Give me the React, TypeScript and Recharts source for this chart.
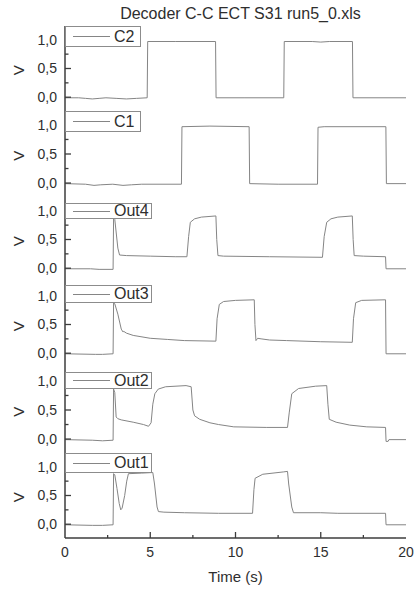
import React from 'react';
import { LineChart, Line, XAxis, YAxis, Legend } from 'recharts';

const FONT = '"Liberation Sans", Arial, Helvetica, sans-serif';
const FRAME = '#3c3c3c';
const TEXT = '#2e2e2e';
const LINE = '#858585';

// ---------- data (time in s, value in V) ----------
const c2: [number, number][] = [
  [0, -0.01], [0.8, -0.01], [1.2, -0.02], [1.6, -0.03], [2.0, -0.02], [2.4, -0.01], [3.0, -0.02],
  [3.6, -0.03], [4.2, -0.02], [4.82, -0.01], [4.85, 0.97], [6.5, 0.97], [8.83, 0.97], [8.86, -0.01],
  [10.5, -0.01], [12.83, -0.01], [12.86, 0.97], [14.5, 0.97], [15.0, 0.96], [15.5, 0.97], [16.86, 0.97],
  [16.89, -0.01], [20, -0.01],
];
const c1: [number, number][] = [
  [0, -0.01], [1.2, -0.02], [1.7, -0.04], [2.1, -0.03], [2.8, -0.02], [3.4, -0.04], [3.9, -0.03],
  [4.5, -0.02], [6.83, -0.02], [6.86, 0.97], [8.5, 0.98], [10.8, 0.97], [10.83, -0.01], [12.5, -0.02],
  [14.81, -0.02], [14.84, 0.96], [15.2, 0.97], [18.82, 0.97], [18.85, -0.01], [20, -0.01],
];
const out4: [number, number][] = [
  [0, -0.01], [1.5, -0.01], [2.0, -0.02], [2.82, -0.02], [2.85, 0.88], [2.92, 0.85], [3.1, 0.35],
  [3.2, 0.23], [3.6, 0.22], [5, 0.21], [6.5, 0.2], [7.15, 0.2], [7.25, 0.55], [7.35, 0.8], [7.6, 0.86],
  [8.0, 0.89], [8.85, 0.91], [8.9, 0.5], [8.97, 0.22], [9.3, 0.21], [12, 0.2], [15.1, 0.19], [15.2, 0.55],
  [15.35, 0.8], [15.6, 0.86], [16.0, 0.89], [16.85, 0.91], [16.9, 0.5], [16.96, 0.22], [17.5, 0.21],
  [18.8, 0.2], [18.83, -0.01], [20, -0.01],
];
const out3: [number, number][] = [
  [0, -0.01], [1.8, -0.02], [2.2, -0.02], [2.82, -0.01], [2.85, 0.88], [2.92, 0.86], [3.1, 0.68],
  [3.3, 0.42], [3.4, 0.37], [3.45, 0.38], [3.6, 0.35], [4.0, 0.31], [4.4, 0.29], [5.0, 0.26], [6.0, 0.24],
  [7.0, 0.22], [8.85, 0.21], [8.92, 0.6], [9.05, 0.85], [9.3, 0.9], [10, 0.92], [11.1, 0.93], [11.14, 0.5],
  [11.2, 0.22], [11.3, 0.26], [11.5, 0.25], [12.0, 0.23], [13, 0.22], [15, 0.2], [16.85, 0.19],
  [16.92, 0.6], [17.05, 0.88], [17.4, 0.92], [18.8, 0.93], [18.83, -0.01], [20, -0.01],
];
const out2: [number, number][] = [
  [0, -0.01], [1.6, -0.02], [2.2, -0.03], [2.82, -0.02], [2.85, 0.86], [2.92, 0.8], [3.0, 0.38],
  [3.1, 0.35], [3.3, 0.33], [4.0, 0.29], [4.6, 0.25], [4.9, 0.22], [5.05, 0.28], [5.15, 0.6], [5.27, 0.78],
  [5.47, 0.86], [5.9, 0.9], [7.1, 0.92], [7.4, 0.9], [7.5, 0.5], [7.6, 0.4], [7.9, 0.34], [8.5, 0.28],
  [9.0, 0.25], [9.9, 0.21], [11.8, 0.2], [13.05, 0.2], [13.15, 0.45], [13.3, 0.78], [13.7, 0.87],
  [14.7, 0.91], [15.35, 0.92], [15.42, 0.6], [15.5, 0.34], [15.9, 0.29], [16.7, 0.24], [17.7, 0.21],
  [18.8, 0.2], [18.83, -0.04], [18.95, -0.04], [19.0, -0.01], [20, -0.01],
];
const out1: [number, number][] = [
  [0, -0.01], [1.6, -0.02], [2.2, -0.02], [2.82, -0.01], [2.85, 0.88], [2.92, 0.86], [3.05, 0.62],
  [3.18, 0.36], [3.27, 0.25], [3.35, 0.28], [3.5, 0.5], [3.62, 0.75], [3.72, 0.88], [4.5, 0.89],
  [5.15, 0.9], [5.25, 0.7], [5.4, 0.3], [5.48, 0.22], [5.8, 0.21], [7, 0.2], [9, 0.19], [11.0, 0.19],
  [11.08, 0.6], [11.15, 0.8], [11.6, 0.87], [12.8, 0.91], [13.05, 0.92], [13.12, 0.7], [13.3, 0.3],
  [13.4, 0.2], [15, 0.2], [16, 0.19], [18.8, 0.19], [18.83, -0.01], [20, -0.01],
];

const seriesNames = ['C2', 'C1', 'Out4', 'Out3', 'Out2', 'Out1'];
const seriesData = [c2, c1, out4, out3, out2, out1];

const timeTicks = [0, 2.5, 5, 7.5, 10, 12.5, 15, 17.5, 20];
const voltTicks = [0, 0.25, 0.5, 0.75, 1.0];
const timeDomain: [number, number] = [0, 20];
const voltDomain: [number, number] = [-0.24, 1.24];

// panel layout
const panelTops = [26, 111, 197, 282, 367, 453];
const panelHeights = [85, 86, 85, 85, 86, 85];
const legendBoxes = [
  { dy: 0, w: 76, h: 21 },
  { dy: 0, w: 76, h: 21 },
  { dy: 6, w: 87, h: 16 },
  { dy: 3, w: 87, h: 18 },
  { dy: 5, w: 87, h: 17 },
  { dy: 0, w: 87, h: 20 },
];

const PLOT_LEFT = 65;
const RIGHT_MARGIN = 10;
const BOTTOM_AXIS_H = 54;

const makeBottomTick = (showLabels: boolean) => (props: any) => {
  const { x, y, payload } = props;
  const v = payload.value as number;
  const major = v % 5 === 0;
  const edge = v === 0 || v === 20;
  return (
    <g>
      {!edge && <line x1={x} x2={x} y1={y} y2={y - (major ? 6 : 3)} stroke={FRAME} strokeWidth={1.3} />}
      {showLabels && major && (
        <text x={x} y={y + 14} dy="0.35em" textAnchor="middle" fill={TEXT} fontSize={14} fontFamily={FONT}>
          {v}
        </text>
      )}
    </g>
  );
};

const TopTick = (props: any) => {
  const { x, y, payload } = props;
  const v = payload.value as number;
  const major = v % 5 === 0;
  if (v === 0 || v === 20) return <g />;
  return <line x1={x} x2={x} y1={y} y2={y + (major ? 6 : 3)} stroke={FRAME} strokeWidth={1.3} />;
};

const LeftTick = (props: any) => {
  const { x, y, payload } = props;
  const v = payload.value as number;
  const major = Math.abs((v * 2) - Math.round(v * 2)) < 1e-6;
  return (
    <g>
      <line x1={x} x2={x + (major ? 6 : 3.5)} y1={y} y2={y} stroke={FRAME} strokeWidth={1.3} />
      {major && (
        <text x={x - 8} y={y} dy="0.35em" textAnchor="end" fill={TEXT} fontSize={14} fontFamily={FONT}>
          {v.toFixed(1).replace('.', ',')}
        </text>
      )}
    </g>
  );
};

const RightTick = (props: any) => {
  const { x, y, payload } = props;
  const v = payload.value as number;
  const major = Math.abs((v * 2) - Math.round(v * 2)) < 1e-6;
  return <line x1={x} x2={x - (major ? 6 : 3.5)} y1={y} y2={y} stroke={FRAME} strokeWidth={1.3} />;
};

const VLabel = (props: any) => {
  const vb = props.viewBox || { x: 0, y: 0, width: 65, height: 85 };
  const cx = vb.x + 19;
  const cy = vb.y + vb.height * 0.52;
  return (
    <text
      x={cx}
      y={cy}
      transform={`rotate(-90 ${cx} ${cy})`}
      textAnchor="middle"
      dominantBaseline="central"
      fill={TEXT}
      fontSize={15}
      fontFamily={FONT}
    >
      V
    </text>
  );
};

const makeLegend = (box: { w: number; h: number }) => (props: any) => {
  const item = (props.payload && props.payload[0]) || { value: '', color: LINE };
  return (
    <div
      style={{
        width: box.w,
        height: box.h,
        boxSizing: 'border-box',
        border: '1px solid #8c8c8c',
        background: '#fff',
        display: 'flex',
        alignItems: 'center',
        fontFamily: FONT,
        fontSize: 16,
        color: TEXT,
        lineHeight: 1,
        whiteSpace: 'nowrap',
        overflow: 'visible',
      }}
    >
      <span style={{ display: 'inline-block', width: 37, height: 0, borderTop: `1px solid ${item.color}`, marginLeft: 7, marginRight: 4 }} />
      <span>{item.value}</span>
    </div>
  );
};

const Panel = ({ index }: { index: number }) => {
  const isLast = index === seriesNames.length - 1;
  const plotH = panelHeights[index];
  const h = plotH + (isLast ? BOTTOM_AXIS_H : 0);
  const data = seriesData[index].map(([t, v]) => ({ t, v }));
  const box = legendBoxes[index];
  return (
    <div style={{ position: 'absolute', left: 0, top: panelTops[index] }}>
      <LineChart width={416} height={h} margin={{ top: 0, right: RIGHT_MARGIN, bottom: 0, left: 0 }}>
        <XAxis
          xAxisId="b"
          dataKey="t"
          type="number"
          domain={timeDomain}
          ticks={timeTicks}
          interval={0}
          allowDataOverflow
          orientation="bottom"
          height={isLast ? BOTTOM_AXIS_H : 0}
          tickSize={0}
          tickMargin={0}
          tickLine={false}
          axisLine={{ stroke: FRAME, strokeWidth: 1.5 }}
          tick={makeBottomTick(isLast)}
          label={
            isLast
              ? { value: 'Time (s)', position: 'insideBottom', offset: 10, fill: TEXT, fontSize: 15, fontFamily: FONT }
              : undefined
          }
        />
        <XAxis
          xAxisId="t"
          type="number"
          domain={timeDomain}
          ticks={timeTicks}
          interval={0}
          allowDataOverflow
          orientation="top"
          height={0}
          tickSize={0}
          tickMargin={0}
          tickLine={false}
          axisLine={{ stroke: FRAME, strokeWidth: 1.5 }}
          tick={TopTick}
        />
        <YAxis
          yAxisId="l"
          type="number"
          domain={voltDomain}
          ticks={voltTicks}
          interval={0}
          allowDataOverflow
          orientation="left"
          width={PLOT_LEFT}
          tickSize={0}
          tickMargin={0}
          tickLine={false}
          axisLine={{ stroke: FRAME, strokeWidth: 1.5 }}
          tick={LeftTick}
          label={{ content: VLabel }}
        />
        <YAxis
          yAxisId="r"
          type="number"
          domain={voltDomain}
          ticks={voltTicks}
          interval={0}
          allowDataOverflow
          orientation="right"
          width={0}
          tickSize={0}
          tickMargin={0}
          tickLine={false}
          axisLine={{ stroke: FRAME, strokeWidth: 1.5 }}
          tick={RightTick}
        />
        <Legend
          layout="vertical"
          align="center"
          verticalAlign="middle"
          wrapperStyle={{ top: box.dy, left: PLOT_LEFT, width: 'auto', height: 'auto' }}
          content={makeLegend(box)}
        />
        <Line
          xAxisId="b"
          yAxisId="l"
          data={data}
          dataKey="v"
          name={seriesNames[index]}
          type="linear"
          stroke={LINE}
          strokeWidth={1}
          dot={false}
          activeDot={false}
          isAnimationActive={false}
        />
      </LineChart>
    </div>
  );
};

export default function App() {
  return (
    <div style={{ position: 'absolute', left: 0, top: 0, width: 416, height: 592, background: '#fff', overflow: 'hidden' }}>
      <div
        style={{
          position: 'absolute',
          left: PLOT_LEFT,
          top: 4,
          width: 416 - PLOT_LEFT,
          textAlign: 'center',
          fontFamily: FONT,
          fontSize: 16,
          color: TEXT,
          lineHeight: '20px',
        }}
      >
        Decoder C-C ECT S31 run5_0.xls
      </div>
      {seriesNames.map((_, i) => (
        <Panel key={i} index={i} />
      ))}
    </div>
  );
}
